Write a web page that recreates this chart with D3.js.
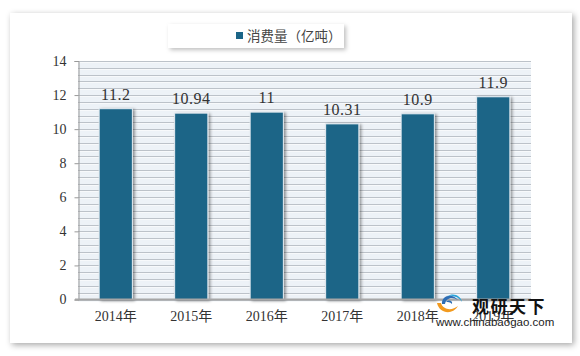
<!DOCTYPE html>
<html><head><meta charset="utf-8">
<script src="https://cdn.jsdelivr.net/npm/d3@7"></script>
<style>
html,body{margin:0;padding:0;background:#fff;}
svg{display:block;}
</style></head>
<body>
<svg id="c" width="580" height="356"></svg>
<script>
const categories = ["2014年","2015年","2016年","2017年","2018年","2019年"];
const values = [11.2, 10.94, 11, 10.31, 10.9, 11.9];
const yTicks = [0,2,4,6,8,10,12,14];
const seriesName = "消费量（亿吨）";

const svg = d3.select("#c");
const defs = svg.append("defs");
const f1 = defs.append("filter").attr("id","panelShadow").attr("x","-5%").attr("y","-5%").attr("width","110%").attr("height","110%");
f1.append("feDropShadow").attr("dx",2).attr("dy",2).attr("stdDeviation",3).attr("flood-color","#000").attr("flood-opacity",0.35);
const f2 = defs.append("filter").attr("id","barShadow").attr("x","-30%").attr("y","-10%").attr("width","160%").attr("height","120%");
f2.append("feDropShadow").attr("dx",2).attr("dy",1).attr("stdDeviation",1.6).attr("flood-color","#000").attr("flood-opacity",0.4);
const f3 = defs.append("filter").attr("id","legShadow").attr("x","-10%").attr("y","-30%").attr("width","120%").attr("height","160%");
f3.append("feDropShadow").attr("dx",2).attr("dy",2).attr("stdDeviation",2).attr("flood-color","#000").attr("flood-opacity",0.25);

// outer panel
svg.append("rect").attr("x",10).attr("y",13).attr("width",562).attr("height",330)
  .attr("fill","#fff").attr("filter","url(#panelShadow)");

const L=78, R=531, T=61, B=299.5;
const x = d3.scaleBand().domain(categories).range([L,R]).paddingInner(0.56).paddingOuter(0.28);
const y = d3.scaleLinear().domain([0,14]).range([B,T]);

// plot background
svg.append("rect").attr("x",L).attr("y",T).attr("width",R-L).attr("height",B-T).attr("fill","#EDF2F7");

// minor grid every 0.4
const minor = d3.range(0, 14.0001, 0.4);
svg.append("g").selectAll("line").data(minor).join("line")
  .attr("x1",L).attr("x2",R)
  .attr("y1",d=>Math.round(y(d))+0.5).attr("y2",d=>Math.round(y(d))+0.5)
  .attr("stroke","#BCC2C9").attr("stroke-width",1);
svg.append("g").selectAll("line").data(minor).join("line")
  .attr("x1",L).attr("x2",R)
  .attr("y1",d=>Math.round(y(d))+1.5).attr("y2",d=>Math.round(y(d))+1.5)
  .attr("stroke","#F7F9FB").attr("stroke-width",1);

// y axis
const yAxis = d3.axisLeft(y).tickValues(yTicks).tickSize(4).tickPadding(8).tickFormat(d3.format("d"));
const gy = svg.append("g").attr("transform",`translate(${L+0.5},0)`).call(yAxis);
gy.select(".domain").attr("stroke","#999");
gy.selectAll(".tick line").attr("stroke","#999");
gy.selectAll(".tick text").attr("fill","#333").attr("font-size","14px")
  .attr("font-family","'Liberation Serif','DejaVu Serif',serif");

// bars
svg.append("g").selectAll("rect").data(values).join("rect")
  .attr("x",(d,i)=>x(categories[i]))
  .attr("y",d=>y(d))
  .attr("width",x.bandwidth())
  .attr("height",d=>B-y(d))
  .attr("fill","#1B6587")
  .attr("stroke","#E6EDF3").attr("stroke-width",1)
  .attr("filter","url(#barShadow)");

// x axis
const xAxis = d3.axisBottom(x).tickSize(0).tickPadding(12);
const gx = svg.append("g").attr("transform",`translate(0,${B})`).call(xAxis);
gx.select(".domain").attr("stroke","#A6A6A6").attr("stroke-width",2).attr("d",`M${L-3},0H${R}`);
gx.selectAll(".tick text").attr("fill","#333").attr("font-size","14px")
  .attr("font-family","'Liberation Serif','Noto Sans CJK SC',serif");

// value labels
svg.append("g").selectAll("text").data(values).join("text")
  .attr("x",(d,i)=>x(categories[i])+x.bandwidth()/2)
  .attr("y",d=>y(d)-9)
  .attr("text-anchor","middle")
  .attr("font-family","'Liberation Serif','DejaVu Serif',serif")
  .attr("font-size","16px").attr("fill","#333")
  .attr("letter-spacing","0.5px")
  .text(d=>String(d));

// legend
const lg = svg.append("g");
lg.append("rect").attr("x",168).attr("y",24).attr("width",176).attr("height",24)
  .attr("fill","#fff").attr("filter","url(#legShadow)");
lg.append("rect").attr("x",236).attr("y",32).attr("width",7).attr("height",7).attr("fill","#1B6587");
lg.append("text").attr("x",247).attr("y",40.5).attr("font-size","13.5px")
  .attr("font-family","'Noto Sans CJK SC',sans-serif").attr("fill","#444").text(seriesName);

// watermark
const wm = svg.append("g");
wm.append("path").attr("d","M437,303 C439,313 452,316 458,306 C452,311 443,310 441,303 Z").attr("fill","#F29A1F");
wm.append("path").attr("d","M442,304 C441,296 452,292 458,300 C452,296 446,298 445,304 Z").attr("fill","#2E6EB5");
wm.append("path").attr("d","M446,302 C449,299 453,301 452,304 C450,302 448,302 446,302 Z").attr("fill","#2E6EB5");
wm.append("path").attr("d","M447,296 C454,292 461,296 462,302 C459,297 453,295 447,296 Z").attr("fill","#29A3D8");
wm.append("text").attr("x",472).attr("y",312.5).attr("font-size","17px").attr("font-weight","bold")
  .attr("font-family","'Noto Sans CJK SC',sans-serif").attr("fill","#111").attr("letter-spacing","1.5px").text("观研天下");
wm.append("text").attr("x",436).attr("y",326).attr("font-size","11.5px")
  .attr("font-family","'Liberation Sans',Arial,sans-serif").attr("fill","#222").text("www.chinabaogao.com");
</script>
</body></html>
